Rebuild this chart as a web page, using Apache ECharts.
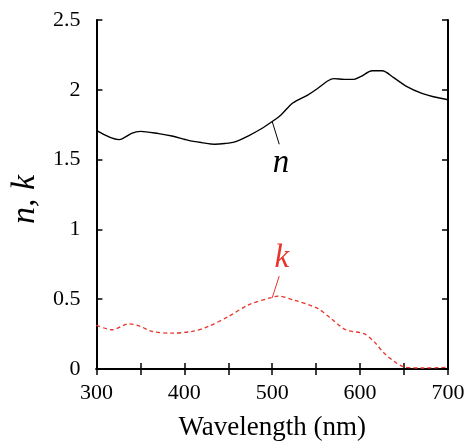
<!DOCTYPE html>
<html><head><meta charset="utf-8">
<script src="https://cdn.jsdelivr.net/npm/echarts@6/dist/echarts.min.js"></script>
<style>html,body{margin:0;padding:0;background:#fff}#c{width:470px;height:446px}</style>
</head><body><div id="c"></div>
<script>
var nWave = [300,325.6,331,340.7,350,370.8,385.9,404.7,419.8,434.8,446,457.4,472.5,487.6,500,510,523.4,540.3,551.6,563,570.4,581.7,593,600.6,613.8,625.1,638.2,653.3,670.3,683.4,700];
var nVals = [1.709,1.643,1.655,1.690,1.702,1.686,1.669,1.638,1.622,1.610,1.615,1.627,1.669,1.721,1.773,1.820,1.905,1.962,2.009,2.063,2.080,2.075,2.075,2.094,2.136,2.136,2.087,2.023,1.974,1.950,1.929];
var kWave = [300,318,337,350,363.3,385.9,408.5,427.3,450,472.5,498.9,506.4,525.2,551.6,566.7,583.6,604.3,615.6,626.9,638.2,649.5,670,700];
var kVals = [0.312,0.281,0.324,0.305,0.269,0.257,0.269,0.305,0.375,0.458,0.512,0.522,0.493,0.434,0.363,0.281,0.253,0.198,0.116,0.057,0.016,0.007,0.012];
var xTicks = [300,400,500,600,700];
var yTicks = [0,0.5,1,1.5,2,2.5];
var xTitle = 'Wavelength (nm)';
var yTitle = 'n, k';
var nLabel = 'n', kLabel = 'k';
// annotation anchors in data coords: [curve point, label-side end, label position]
var nAnno = [[500,1.773],[508,1.61],[510,1.47]];
var kAnno = [[500,0.51],[508,0.665],[511,0.79]];

var FONT = '"Liberation Serif","DejaVu Serif",serif';
var kColor = '#e8352b';
function pairs(xs, ys){ return xs.map(function(x,i){return [x, ys[i]];}); }
var axisLine = {show:true, lineStyle:{color:'#000', width:2}};
var tick = {show:true, inside:true, length:6, lineStyle:{color:'#000', width:1.5}};
var chart = echarts.init(document.getElementById('c'));
var opt = {
  animation:false,
  backgroundColor:'#fff',
  grid:{left:94, right:22, top:20, bottom:73, containLabel:false},
  xAxis:[{
    type:'value', min:300, max:700, interval:50, position:'bottom',
    axisLine:axisLine, axisTick:tick, splitLine:{show:false},
    axisLabel:{color:'#000', fontFamily:FONT, fontSize:22, margin:13,
      formatter:function(v){ return xTicks.indexOf(v)>=0 ? String(v) : ''; }},
    name:xTitle, nameLocation:'middle', nameGap:45,
    nameTextStyle:{color:'#000', fontFamily:FONT, fontSize:27}
  },{
    type:'value', min:300, max:700, interval:50, position:'top',
    axisLine:axisLine, axisTick:tick, axisLabel:{show:false}, splitLine:{show:false}
  }],
  yAxis:[{
    type:'value', min:0, max:2.5, interval:0.5, position:'left',
    axisLine:axisLine, axisTick:tick, splitLine:{show:false},
    axisLabel:{color:'#000', fontFamily:FONT, fontSize:22, margin:16,
      formatter:function(v){ return yTicks.indexOf(v)>=0 ? String(v) : ''; }},
    name:yTitle, nameLocation:'middle', nameGap:49, nameRotate:90,
    nameTextStyle:{color:'#000', fontFamily:FONT, fontSize:34, fontStyle:'italic', padding:[0,10,0,0]}
  },{
    type:'value', min:0, max:2.5, interval:0.5, position:'right',
    axisLine:axisLine, axisTick:tick, axisLabel:{show:false}, splitLine:{show:false}
  }],
  series:[{
    type:'line', data:pairs(nWave,nVals), smooth:0.3, showSymbol:false,
    lineStyle:{color:'#000', width:1.4}
  },{
    type:'line', data:pairs(kWave,kVals), smooth:0.3, showSymbol:false,
    lineStyle:{color:kColor, width:1.3, type:[4,3]}
  }]
};
chart.setOption(opt);
function px(p){ return chart.convertToPixel({xAxisIndex:0, yAxisIndex:0}, p); }
var n0=px(nAnno[0]), n1=px(nAnno[1]), n2=px(nAnno[2]);
var k0=px(kAnno[0]), k1=px(kAnno[1]), k2=px(kAnno[2]);
chart.setOption({graphic:[
  {type:'line', shape:{x1:n0[0],y1:n0[1],x2:n1[0],y2:n1[1]}, style:{stroke:'#000', lineWidth:1}},
  {type:'text', x:n2[0], y:n2[1], style:{text:nLabel, font:'italic 33px '+FONT, fill:'#000', align:'center', verticalAlign:'middle'}},
  {type:'line', shape:{x1:k0[0],y1:k0[1],x2:k1[0],y2:k1[1]}, style:{stroke:kColor, lineWidth:1}},
  {type:'text', x:k2[0], y:k2[1], style:{text:kLabel, font:'italic 33px '+FONT, fill:kColor, align:'center', verticalAlign:'middle'}}
]});
</script></body></html>
